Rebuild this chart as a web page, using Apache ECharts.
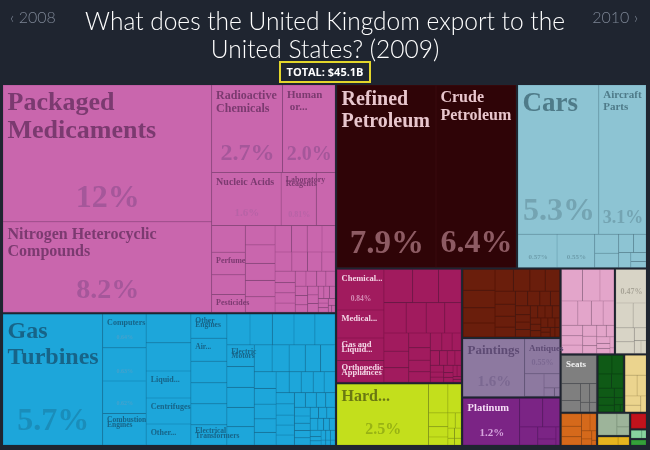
<!DOCTYPE html>
<html><head><meta charset="utf-8">
<script src="https://cdn.jsdelivr.net/npm/echarts@6/dist/echarts.min.js"></script>
<style>html,body{margin:0;padding:0;background:#1f2530;}#c{width:650px;height:450px;}</style>
</head><body><div id="c"></div>
<script>
// ---------- DATA (shares of total exports, %) ----------
const chemicalsNames = ['Packaged Medicaments','Nitrogen Heterocyclic Compounds','Radioactive Chemicals','Human or Animal Blood','Nucleic Acids','Laboratory Reagents','','','Perfume','','Pesticides'];
const chemicalsValues = [12.4,8.2,2.7,2.0,1.6,0.81,0.43,0.39,0.33,0.29,0.26,0.25,0.24,0.22,0.21,0.2,0.19,0.18,0.17,0.15,0.14,0.13,0.12,0.11,0.1,0.09,0.09,0.08,0.07,0.07,0.06,0.06,0.05,0.05,0.04,0.04,0.04,0.04,0.03,0.03,0.03,0.02,0.02,0.02,0.02,0.01,0.01];

const machinesNames = ['Gas Turbines','Computers','','','Combustion Engines','','','Liquid Pumps','Centrifuges','Other Heating Machinery','Other Engines','Air Pumps','','','','Electrical Transformers','','','','','','Electric Motors'];
const machinesValues = [5.7,0.64,0.63,0.62,0.60,0.56,0.55,0.53,0.51,0.41,0.38,0.36,0.34,0.33,0.33,0.32,0.31,0.30,0.29,0.28,0.27,0.26,0.25,0.24,0.23,0.22,0.21,0.2,0.19,0.18,0.17,0.16,0.15,0.14,0.13,0.12,0.12,0.11,0.11,0.1,0.1,0.09,0.09,0.08,0.08,0.08,0.07,0.07,0.06,0.06,0.06,0.05,0.05,0.05,0.05,0.04,0.04,0.04,0.04,0.03,0.03,0.03,0.03,0.02,0.02,0.02,0.02,0.02,0.01,0.01,0.01];

const mineralNames = ['Refined Petroleum','Crude Petroleum'];
const mineralValues = [7.9,6.4];

const transportNames = ['Cars','Aircraft Parts'];
const transportValues = [5.3,3.1,0.57,0.55,0.2,0.15,0.12,0.1,0.08,0.06,0.04];

const instrumentsNames = ['Chemical Analysis Instruments','Medical Instruments','Gas and Liquid Flow Measuring Instruments','Orthopedic Appliances'];
const instrumentsValues = [0.84,0.58,0.47,0.45,0.42,0.38,0.33,0.3,0.27,0.25,0.22,0.2,0.18,0.16,0.14,0.12,0.11,0.1,0.09,0.08,0.07,0.06,0.05,0.05,0.04,0.04,0.03,0.03,0.03,0.02,0.02,0.02,0.02,0.01,0.01];

const foodstuffsNames = ['Hard Liquor'];
const foodstuffsValues = [2.5,0.25,0.17,0.12,0.09,0.07,0.05,0.04,0.03,0.03,0.02,0.02];

const metalsValues = [0.3,0.25,0.22,0.2,0.18,0.16,0.15,0.14,0.12,0.11,0.1,0.09,0.08,0.08,0.07,0.06,0.06,0.05,0.05,0.05,0.04,0.04,0.04,0.04,0.03,0.03,0.03,0.03,0.03,0.02,0.02,0.02,0.02,0.02];

const artsNames = ['Paintings','Antiques'];
const artsValues = [1.6,0.55,0.2,0.1,0.04,0.02];

const preciousNames = ['Platinum'];
const preciousValues = [1.2,0.3,0.22,0.15,0.1,0.05,0.03];

const textilesValues = [0.3,0.25,0.2,0.18,0.15,0.13,0.12,0.1,0.09,0.08,0.07,0.06,0.05,0.05,0.04,0.04,0.03,0.03,0.02,0.01];
const stoneValues = [0.47,0.2,0.15,0.12,0.1,0.07,0.04,0.03];
const miscNames = ['Seats'];
const miscValues = [0.46,0.15,0.1,0.08,0.06,0.04,0.03];
const plasticsValues = [0.12,0.1,0.09,0.08,0.07,0.06,0.05,0.04,0.03,0.02,0.01];
const paperValues = [0.2,0.12,0.09,0.07,0.05,0.04];
const hidesValues = [0.12,0.1,0.08,0.07,0.05,0.04,0.03,0.02,0.01];
const woodValues = [0.2,0.08,0.05];
const vegetableValues = [0.09,0.05];
const animalValues = [0.05,0.02];
const footwearValues = [0.05];
const weaponsValues = [0.12];

const SECTORS = [
  {key:'chem', name:'Chemicals', names:chemicalsNames, values:chemicalsValues},
  {key:'mach', name:'Machines', names:machinesNames, values:machinesValues},
  {key:'min', name:'Mineral Products', names:mineralNames, values:mineralValues},
  {key:'trans', name:'Transportation', names:transportNames, values:transportValues},
  {key:'inst', name:'Instruments', names:instrumentsNames, values:instrumentsValues},
  {key:'food', name:'Foodstuffs', names:foodstuffsNames, values:foodstuffsValues},
  {key:'met', name:'Metals', names:[], values:metalsValues},
  {key:'arts', name:'Arts and Antiques', names:artsNames, values:artsValues},
  {key:'prec', name:'Precious Metals', names:preciousNames, values:preciousValues},
  {key:'tex', name:'Textiles', names:[], values:textilesValues},
  {key:'stone', name:'Stone and Glass', names:[], values:stoneValues},
  {key:'misc', name:'Miscellaneous', names:miscNames, values:miscValues},
  {key:'plas', name:'Plastics and Rubbers', names:[], values:plasticsValues},
  {key:'paper', name:'Paper Goods', names:[], values:paperValues},
  {key:'hides', name:'Animal Hides', names:[], values:hidesValues},
  {key:'wood', name:'Wood Products', names:[], values:woodValues},
  {key:'veg', name:'Vegetable Products', names:[], values:vegetableValues},
  {key:'anim', name:'Animal Products', names:[], values:animalValues},
  {key:'foot', name:'Footwear and Headwear', names:[], values:footwearValues},
  {key:'weap', name:'Weapons', names:[], values:weaponsValues}
];

// ---------- STYLES ----------
const BG = '#1f2530';
const SERIF = '"Liberation Serif", "Times New Roman", serif';
const SECTOR_STYLE = {
  chem:{color:'#c966ad', border:'#b3569a', nc:'#7b3a70', pc:'#a5579a'},
  mach:{color:'#1da6da', border:'#1690c2', nc:'#176488', pc:'#1a8dba'},
  min:{color:'#2f0407', border:'#3b0b0f', nc:'#e8c6cd', pc:'#8d5b63'},
  trans:{color:'#8dc4d3', border:'#78b0c0', nc:'#4f7b89', pc:'#74a4b2'},
  inst:{color:'#a11b5e', border:'#8c1550', nc:'#f4d6e6', pc:'#d68cb6'},
  food:{color:'#c3df1c', border:'#abc414', nc:'#6a7812', pc:'#98b214'},
  met:{color:'#6a1e0c', border:'#581506', nc:'#e0c0b0', pc:'#a0604c'},
  arts:{color:'#8d79a0', border:'#7a668e', nc:'#5e4b74', pc:'#7b6891'},
  prec:{color:'#7b2485', border:'#6a1a74', nc:'#f6def6', pc:'#d6a4de'},
  tex:{color:'#e3a5ca', border:'#cc8fb4', nc:'#8a4a70', pc:'#b07a9a'},
  stone:{color:'#d8d4c6', border:'#c2bdb0', nc:'#7a766a', pc:'#a9a598'},
  misc:{color:'#7f7f7f', border:'#6c6c6c', nc:'#f2f2f2', pc:'#bbbbbb'},
  plas:{color:'#0f5a16', border:'#0a4a10', nc:'#c0e0c0', pc:'#80b080'},
  paper:{color:'#ebd48e', border:'#d4bd78', nc:'#8a7a40', pc:'#b0a060'},
  hides:{color:'#d5691b', border:'#bb5810', nc:'#fde0c0', pc:'#f0a070'},
  wood:{color:'#9db49a', border:'#879e84', nc:'#506a50', pc:'#708a70'},
  veg:{color:'#e6b41f', border:'#c99a14', nc:'#806010', pc:'#a08020'},
  anim:{color:'#88d49e', border:'#72be88', nc:'#407a50', pc:'#60a070'},
  foot:{color:'#35a03a', border:'#2a8a2e', nc:'#c0f0c0', pc:'#80c080'},
  weap:{color:'#c1131c', border:'#a80e16', nc:'#ffd0d0', pc:'#f08080'}
};
// label look: t = shown name, n = name size, p = share size, lf = line factor, pc = share colour
const LBL = {
  'Packaged Medicaments':{t:'Packaged\nMedicaments', n:26, p:32},
  'Nitrogen Heterocyclic Compounds':{t:'Nitrogen Heterocyclic\nCompounds', n:16, p:28},
  'Radioactive Chemicals':{t:'Radioactive\nChemicals', n:12, p:24},
  'Human or Animal Blood':{t:'Human\n or...', n:11, p:20},
  'Nucleic Acids':{t:'Nucleic Acids', n:10, p:11, pc:'#b763a6'},
  'Laboratory Reagents':{t:'Laboratory\nReagents', n:8, p:8, lf:0.6, pc:'#b763a6'},
  'Perfume':{t:'Perfume', n:8},
  'Pesticides':{t:'Pesticides', n:8},
  'Gas Turbines':{t:'Gas\nTurbines', n:24, p:32},
  'Computers':{t:'Computers', n:8, p:6, pc:'#45a2cc'},
  'mach#2':{p:6, pc:'#45a2cc'},
  'mach#3':{p:6, pc:'#45a2cc'},
  'Combustion Engines':{t:'Combustion\nEngines', n:7.5, lf:0.6},
  'Liquid Pumps':{t:'Liquid...', n:8},
  'Centrifuges':{t:'Centrifuges', n:8},
  'Other Heating Machinery':{t:'Other...', n:8},
  'Other Engines':{t:'Other\nEngines', n:7.5, lf:0.6},
  'Air Pumps':{t:'Air...', n:7.5},
  'Electric Motors':{t:'Electric\nMotors', n:7.5, lf:0.6},
  'Electrical Transformers':{t:'Electrical\nTransformers', n:7.5, lf:0.6},
  'Refined Petroleum':{t:'Refined\nPetroleum', n:20, p:33},
  'Crude Petroleum':{t:'Crude\nPetroleum', n:16, p:32},
  'Cars':{t:'Cars', n:27, p:32},
  'Aircraft Parts':{t:'Aircraft\nParts', n:11, p:18},
  'trans#2':{p:7, pc:'#6e9eac'},
  'trans#3':{p:7, pc:'#6e9eac'},
  'Chemical Analysis Instruments':{t:'Chemical...', n:8.5, p:7.5},
  'Medical Instruments':{t:'Medical...', n:8.5},
  'Gas and Liquid Flow Measuring Instruments':{t:'Gas and\nLiquid...', n:8.5, lf:0.6},
  'Orthopedic Appliances':{t:'Orthopedic\nAppliances', n:8.5, lf:0.6},
  'Hard Liquor':{t:'Hard...', n:16, p:16},
  'Paintings':{t:'Paintings', n:13, p:15},
  'Antiques':{t:'Antiques', n:9, p:8},
  'Platinum':{t:'Platinum', n:10.5, p:11},
  'Seats':{t:'Seats', n:9},
  'stone#0':{p:8}
};
const PAD = [4, 3, 3, 4];

// ---------- BUILD ----------
const total = SECTORS.reduce((s, c) => s + c.values.reduce((a, b) => a + b, 0), 0);
const keySector = {};
const treeData = SECTORS.map(s => {
  const st = SECTOR_STYLE[s.key];
  return {
    name: s.name,
    itemStyle: {color: st.color, borderColor: BG},
    children: s.values.map((v, i) => {
      const nm = s.names[i] || '';
      const key = nm || (s.key + '#' + i);
      keySector[key] = s.key;
      return {name: nm, key: key, value: v, itemStyle: {color: st.color, borderColor: st.border}};
    })
  };
});
const rich = {g10:{fontSize:1, lineHeight:10, height:10}, g1:{fontSize:1, lineHeight:1, height:1}};
const keyIndex = {};
Object.keys(LBL).forEach((k, i) => {
  const L = LBL[k];
  keyIndex[k] = i;
  const st = SECTOR_STYLE[keySector[k]] || SECTOR_STYLE.chem;
  if (L.n) rich['n' + i] = {fontFamily: SERIF, fontWeight: 'bold', fontSize: L.n, lineHeight: L.n * (L.lf || 1.08), color: st.nc};
  if (L.p) rich['p' + i] = {fontFamily: SERIF, fontWeight: 'bold', fontSize: L.p, lineHeight: L.p, color: L.pc || st.pc, align: 'center'};
});
function pctText(v) {
  const p = v / total * 100;
  if (p >= 9.95) return Math.round(p) + '%';
  if (p >= 0.995) return p.toFixed(1) + '%';
  return p.toFixed(2) + '%';
}

const chart = echarts.init(document.getElementById('c'), null, {renderer: 'canvas'});
const option = {
  backgroundColor: BG,
  animation: false,
  title: [
    {text: 'What does the United Kingdom export to the\nUnited States? (2009)', left: 'center', top: 3,
     textStyle: {color: '#ffffff', fontSize: 24.5, fontWeight: 300, fontFamily: 'Lato', lineHeight: 28}},
    {text: '\u2039 2008', left: 5, top: 5, textStyle: {color: '#7c8594', fontSize: 16, fontWeight: 300, fontFamily: 'Lato'}},
    {text: '2010 \u203A', right: 7, top: 5, textStyle: {color: '#7c8594', fontSize: 16, fontWeight: 300, fontFamily: 'Lato'}},
    {text: 'TOTAL: $45.1B', left: 'center', top: 62, padding: [4, 7, 3, 7], borderColor: '#e3d62b', borderWidth: 2,
     textStyle: {color: '#ffffff', fontSize: 11, fontWeight: 'bold', fontFamily: 'Open Sans', lineHeight: 13}}
  ],
  series: [{
    type: 'treemap',
    left: 2, top: 84, width: 645, height: 362,
    roam: false, nodeClick: false, silent: true,
    breadcrumb: {show: false},
    visibleMin: 0,
    sort: 'desc',
    upperLabel: {show: false},
    label: {
      show: true, position: 'insideTopLeft', distance: 0, padding: PAD, overflow: 'none',
      rich: rich,
      formatter: function (p) {
        const d = p.data || {};
        const L = LBL[d.key];
        if (!L) return '';
        const i = keyIndex[d.key];
        const lay = chart.getModel().getSeriesByIndex(0).getData().getItemLayout(p.dataIndex);
        if (!lay) return '';
        const H = lay.height - 1 - PAD[0] - PAD[2];
        const parts = [];
        let used = 0;
        if (L.t) {
          const lines = L.t.split('\n');
          lines.forEach(s => parts.push('{n' + i + '|' + s + '}'));
          used += lines.length * L.n * (L.lf || 1.08);
        }
        if (L.p) {
          let gap = Math.floor(H - used - L.p - 3);
          if (gap < 0) gap = 0;
          for (let k = 0; k < Math.floor(gap / 10); k++) parts.push('{g10| }');
          for (let k = 0; k < gap % 10; k++) parts.push('{g1| }');
          parts.push('{p' + i + '|' + pctText(d.value) + '}');
        }
        return parts.join('\n');
      }
    },
    levels: [
      {itemStyle: {borderWidth: 0, gapWidth: 0, borderColor: BG, color: BG}},
      {itemStyle: {borderWidth: 1, gapWidth: 0, borderColor: BG}},
      {itemStyle: {borderWidth: 0.5, gapWidth: 0}}
    ],
    data: treeData
  }]
};
chart.setOption(option);
</script>
</body></html>
